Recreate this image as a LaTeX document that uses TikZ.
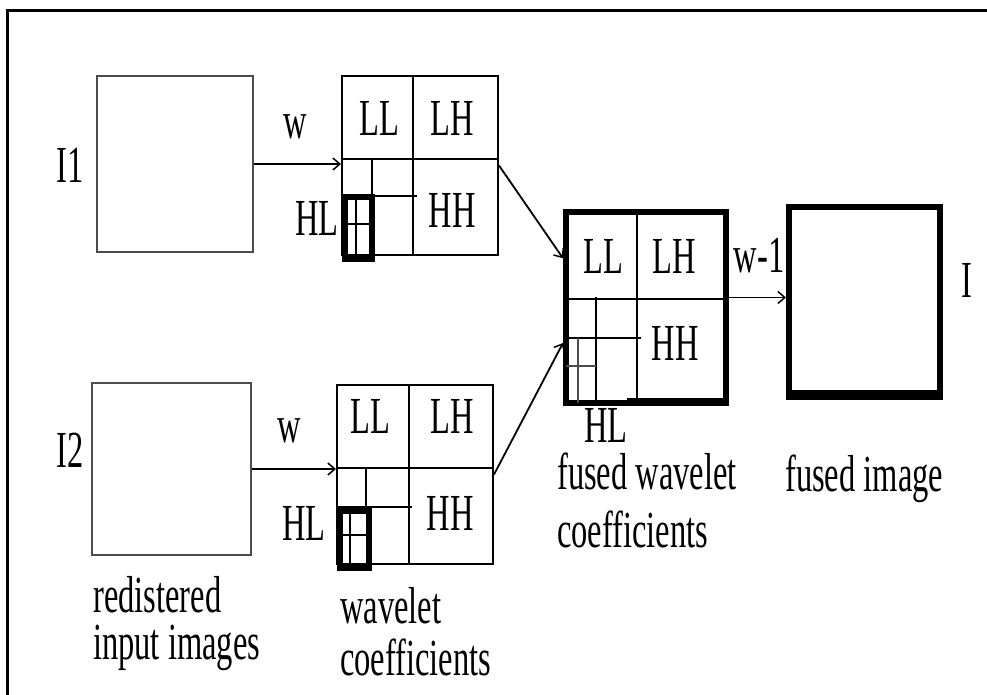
\documentclass[tikz,border=0pt]{standalone}
\usepackage{fontspec}
\setmainfont{Liberation Serif}
\usepackage{graphicx}
\usetikzlibrary{arrows.meta,calc}
\newcommand\tallt[1]{\scalebox{1}[1.6]{#1}}
\tikzset{
  lbl/.style={font=\fontsize{32.5}{36}\selectfont, inner sep=0pt, anchor=base},
  lblw/.style={lbl, anchor=base west},
  lble/.style={lbl, anchor=base east},
  imgbox/.style={draw=black!70, line width=2.5pt, inner sep=0pt, minimum width=#1},
  coefbox/.style={draw=black, line width=2pt, inner sep=0pt},
  thickbox/.style={draw=black, line width=6pt, inner sep=0pt},
  grid/.style={draw=black, line width=2pt},
  thingrid/.style={draw=black!70, line width=1.5pt},
  arr/.style={draw=black, line width=1.8pt, -{Straight Barb[length=7pt,width=12pt,line width=1.5pt]}}
}
\begin{document}
\begin{tikzpicture}[x=1pt,y=-1pt]
\useasboundingbox (0,0) rectangle (987,694);
\fill[white] (0,0) rectangle (987,694);
% outer frame
\draw[line width=3pt] (7,700) -- (7,10) -- (990,10);

% input images
\node[imgbox=156pt, minimum height=176pt] (i1) at (175,164) {};
\node[imgbox=159pt, minimum height=172pt] (i2) at (171.5,469) {};

% wavelet coefficient boxes
\node[coefbox, minimum width=156pt, minimum height=179pt] (c1) at (420,165.5) {};
\node[coefbox, minimum width=156pt, minimum height=179pt] (c2) at (415,474.5) {};

% fused coefficients and fused image
\node[thickbox, minimum width=160pt, minimum height=191pt] (f) at (646,307.5) {};
\node[thickbox, minimum width=151pt, minimum height=189pt] (o) at (864.5,301.5) {};
\fill[black] (786,390) rectangle (943,400);
\fill[black] (627,398) rectangle (729,406);

% grid of c1
\draw[grid] (413,76) -- (413,255);
\draw[grid] (342,159) -- (498,159);
\draw[grid] (372,159) -- (372,196);
\draw[grid] (342,196) -- (417,196);
\draw[line width=6pt] (345,197) rectangle (372,259);
\draw[grid] (356,197) -- (356,259);
\draw[grid] (345,224) -- (372,224);

% grid of c2
\draw[grid] (409,385) -- (409,564);
\draw[grid] (337,468) -- (493,468);
\draw[grid] (366,468) -- (366,507);
\draw[grid] (337,507) -- (412,507);
\draw[line width=6pt] (340,511) rectangle (369,568);
\draw[grid] (350,511) -- (350,568);
\draw[grid] (340,535) -- (369,535);

% grid of fused
\draw[grid] (637,212) -- (637,403);
\draw[grid] (566,299) -- (726,299);
\draw[grid] (596,297) -- (596,403);
\draw[grid] (566,338) -- (641,338);
\draw[thingrid] (578,338) -- (578,403);
\draw[thingrid] (566,366) -- (596,366);

% connectors
\draw[arr] (i1.east) -- (i1.east -| c1.west);
\draw[arr] (i2.east) -- (i2.east -| c2.west);
\draw[arr] (c1.east) -- ($(f.north west)!0.25!(f.south west)$);
\draw[arr] (c2.east) -- ($(f.north west)!0.68!(f.south west)$);
\draw[arr] ([yshift=10pt]f.east) -- ([yshift=10pt]f.east -| o.west);

% labels
\node[lbl] (tI1) at (70,182) {\tallt{I1}};
\node[lbl] (tI2) at (70,467) {\tallt{I2}};
\node[lbl] (tw1) at (295,138) {\tallt{w}};
\node[lbl] (tw2) at (289,442) {\tallt{w}};
\node[lbl] (c1ll) at (379,135) {\tallt{LL}};
\node[lbl] (c1lh) at (452,135) {\tallt{LH}};
\node[lbl] (c1hh) at (452,227) {\tallt{HH}};
\node[lble] (c1hl) at (339,235) {\tallt{HL}};
\node[lbl] (c2ll) at (370,433) {\tallt{LL}};
\node[lbl] (c2lh) at (452,433) {\tallt{LH}};
\node[lbl] (c2hh) at (450,530) {\tallt{HH}};
\node[lble] (c2hl) at (326,540) {\tallt{HL}};
\node[lbl] (fll) at (603,273) {\tallt{LL}};
\node[lbl] (flh) at (674,273) {\tallt{LH}};
\node[lbl] (fhh) at (675,360) {\tallt{HH}};
\node[lbl] (fhl) at (606,442) {\tallt{HL}};
\node[lbl] (tw3) at (759,272) {\tallt{w-1}};
\node[lbl] (tI) at (967,297) {\tallt{I}};
\node[lblw] (tfw1) at (557,489) {\tallt{fused wavelet}};
\node[lblw] (tfw2) at (557,547) {\tallt{coefficients}};
\node[lblw] (tfi) at (785,491) {\tallt{fused image}};
\node[lblw] (tr1) at (93,612) {\tallt{redistered}};
\node[lblw] (tr2) at (93,659) {\tallt{input images}};
\node[lblw] (twc1) at (340,623) {\tallt{wavelet}};
\node[lblw] (twc2) at (340,675) {\tallt{coefficients}};
\end{tikzpicture}
\end{document}
